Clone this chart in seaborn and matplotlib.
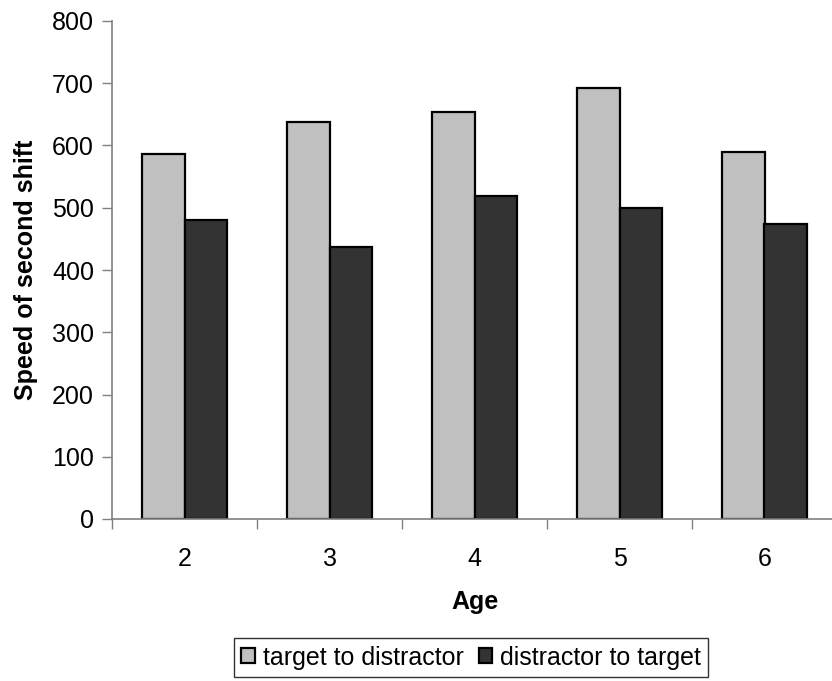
import pandas as pd
import seaborn as sns
import matplotlib.pyplot as plt

# Data
ages = ["2", "3", "4", "5", "6"]
target_to_distractor = [587, 638, 654, 692, 590]
distractor_to_target = [480, 437, 519, 500, 474]
series_names = ["target to distractor", "distractor to target"]

df = pd.DataFrame({
    "Age": ages * 2,
    "Speed": target_to_distractor + distractor_to_target,
    "Series": [series_names[0]] * len(ages) + [series_names[1]] * len(ages),
})

sns.set_style("white")
plt.rcParams['font.family'] = ['Liberation Sans', 'DejaVu Sans']
plt.rcParams['text.color'] = 'black'
plt.rcParams['axes.labelcolor'] = 'black'
plt.rcParams['xtick.labelcolor'] = 'black'
plt.rcParams['ytick.labelcolor'] = 'black'

fig = plt.figure(figsize=(8.32, 6.81), dpi=100)
ax = fig.add_axes([112 / 832, 162 / 681, 725 / 832, 498 / 681])

sns.barplot(data=df, x="Age", y="Speed", hue="Series", hue_order=series_names,
            palette=["#C0C0C0", "#333333"], edgecolor="black", linewidth=1.6,
            width=0.58, gap=0, ax=ax)

ax.set_ylim(0, 800)
ax.set_xlim(-0.5, 4.5)
ax.set_yticks(range(0, 801, 100))
ax.tick_params(axis="y", direction="out", length=7, width=1, color="#808080",
               labelsize=18, pad=6, left=True)
ax.set_xticks(range(len(ages)))
ax.set_xticklabels(ages)
ax.set_xticks([i - 0.5 for i in range(len(ages) + 1)], minor=True)
ax.tick_params(axis="x", which="major", length=0, labelsize=18, pad=20)
ax.tick_params(axis="x", which="minor", direction="out", length=7, width=1,
               color="#808080", bottom=True)

for side in ["top", "right"]:
    ax.spines[side].set_visible(False)
for side in ["left", "bottom"]:
    ax.spines[side].set_color("#808080")
    ax.spines[side].set_linewidth(1.2)

ax.set_xlabel("Age", fontsize=18, fontweight="bold", labelpad=14)
ax.set_ylabel("Speed of second shift", fontsize=18, fontweight="bold", labelpad=10)

handles, labels = ax.get_legend_handles_labels()
ax.legend_.remove()
leg = fig.legend(handles, labels, loc="lower center", bbox_to_anchor=(471 / 832, 4 / 681),
                 ncol=2, fontsize=18, frameon=True, fancybox=False,
                 handlelength=0.55, handleheight=0.55, handletextpad=0.3,
                 columnspacing=0.6, borderpad=0.3, borderaxespad=0)
leg.get_frame().set_edgecolor("black")
leg.get_frame().set_linewidth(1)

fig.savefig("out.png", dpi=100)
